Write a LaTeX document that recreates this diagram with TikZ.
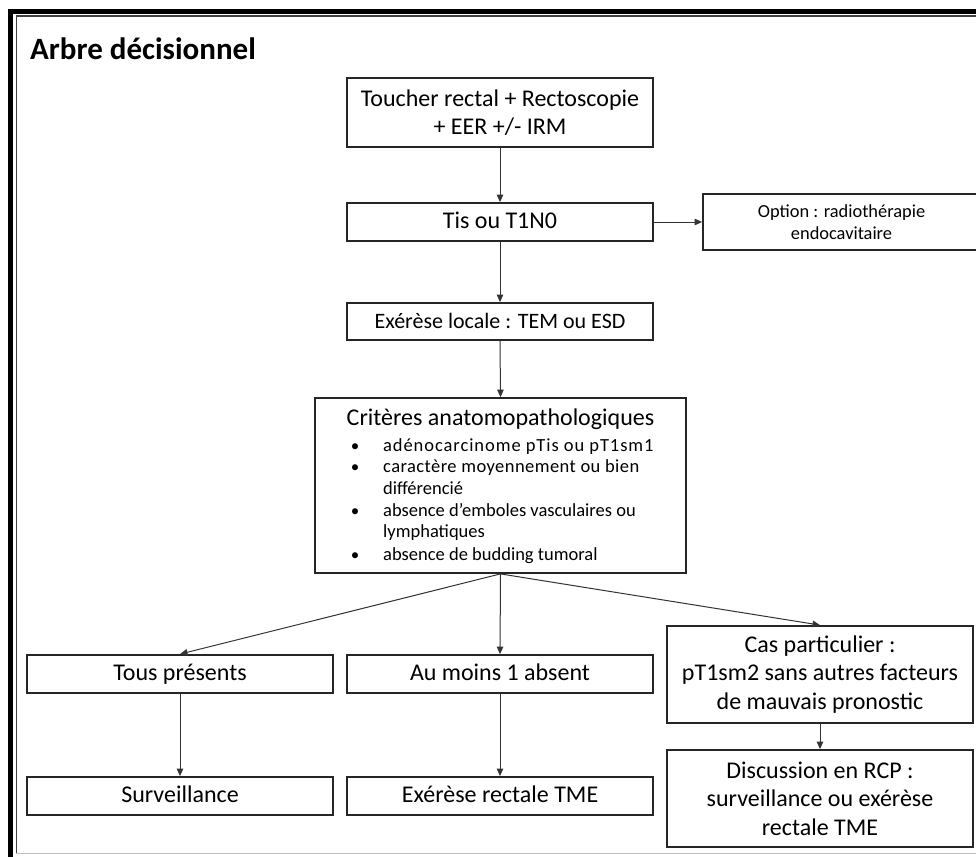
\documentclass[tikz,border=0pt]{standalone}
\usepackage{fontspec}
\setmainfont{Carlito}
\usetikzlibrary{arrows.meta}
\begin{document}
\begin{tikzpicture}[x=1pt,y=-1pt,
  box/.style={draw=black!85, line width=1.8pt, inner sep=0pt, minimum width=306pt, align=center, font=\fontsize{24}{28.5}\selectfont},
  oneline/.style={text height=17.5pt, text depth=4.5pt},
  conn/.style={draw=black!80, line width=1pt, -{Triangle[length=7.5pt,width=6.5pt]}},
  critem/.style={anchor=base west, inner sep=0pt, font=\fontsize{18.5}{22}\selectfont},
  bul/.style={anchor=base, inner sep=0pt, font=\fontsize{17}{22}\selectfont}]
\useasboundingbox (0,0) rectangle (976,856);
\clip (0,0) rectangle (976,856);
% frame
\draw[line width=5pt, black] (10.5,860) -- (10.5,11.5) -- (980,11.5);
\draw[line width=1.4pt, black!75] (16.2,853) -- (16.2,16.2) -- (980,16.2);
\draw[line width=1.4pt, black!25] (16,853.5) -- (980,853.5);
% title
\node[anchor=base west, inner sep=0pt, font=\bfseries\fontsize{31}{36}\selectfont] (title) at (30,60) {Arbre décisionnel};
% nodes
\node[box, minimum height=69pt] (exam) at (500,112.5) {Toucher rectal + Rectoscopie\\+ EER +/- IRM};
\node[box, oneline, minimum height=38pt] (stage) at (500,222) {Tis ou T1N0};
\node[box, minimum width=277pt, minimum height=56pt, font=\fontsize{18.4}{22}\selectfont] (option) at (841.5,222) {Option : radiothérapie\\endocavitaire};
\node[box, oneline, minimum height=37pt, font=\fontsize{22}{26}\selectfont] (local) at (500,321.5) {Exérèse locale : TEM ou ESD};
\node[box, minimum width=371pt, minimum height=175pt] (crit) at (500.5,485.5) {};
\node[anchor=base, inner sep=0pt, font=\fontsize{24}{28}\selectfont] (crittitle) at (500.5,425) {Critères anatomopathologiques};
\node[bul] (b1) at (355,451) {•};
\node[critem] (c1) at (383,451) {\addfontfeature{LetterSpace=5}adénocarcinome pTis ou pT1sm1};
\node[bul] (b2) at (355,472) {•};
\node[critem] (c2a) at (383,472) {\addfontfeature{LetterSpace=2.4}caractère moyennement ou bien};
\node[critem] (c2b) at (383,494) {différencié};
\node[bul] (b3) at (355,516) {•};
\node[critem] (c3a) at (383,516) {absence d’emboles vasculaires ou};
\node[critem] (c3b) at (383,537) {lymphatiques};
\node[bul] (b4) at (355,560) {•};
\node[critem] (c4) at (383,560) {absence de budding tumoral};
\node[box, oneline, minimum height=38pt] (all) at (180,674) {Tous présents};
\node[box, oneline, minimum height=38pt] (oneabs) at (500,674) {Au moins 1 absent};
\node[box, minimum height=97pt] (special) at (820,674.5) {Cas particulier :\\pT1sm2 sans autres facteurs\\de mauvais pronostic};
\node[box, oneline, minimum height=38pt] (surv) at (180,796) {Surveillance};
\node[box, oneline, minimum height=38pt] (tme) at (500,796) {Exérèse rectale TME};
\node[box, minimum height=97pt] (disc) at (820,798.5) {Discussion en RCP :\\surveillance ou exérèse\\rectale TME};
% connectors
\draw[conn] (exam.south) -- (stage.north);
\draw[conn] (stage.east) -- (option.west);
\draw[conn] (stage.south) -- (local.north);
\draw[conn] (local.south) -- (crit.north);
\draw[conn] (crit.south) -- (all.north);
\draw[conn] (crit.south) -- (oneabs.north);
\draw[conn] (crit.south) -- (special.north);
\draw[conn] (all.south) -- (surv.north);
\draw[conn] (oneabs.south) -- (tme.north);
\draw[conn] (special.south) -- (disc.north);
\end{tikzpicture}
\end{document}
